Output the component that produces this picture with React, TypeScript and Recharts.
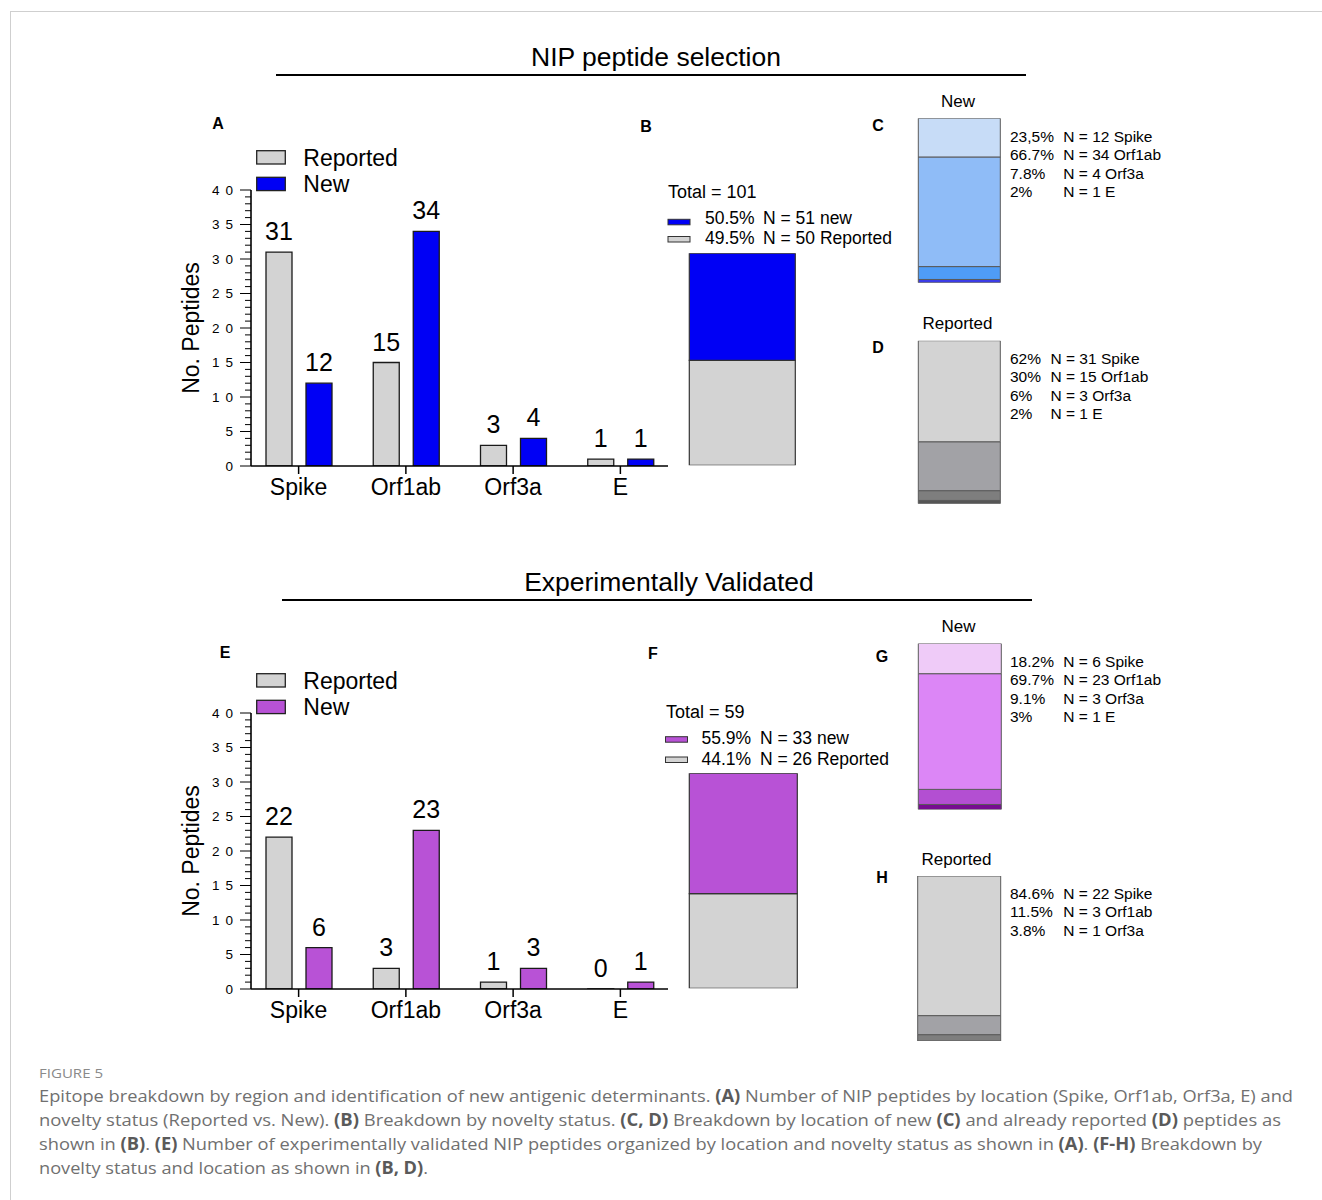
import React from 'react';
import { BarChart, Bar, XAxis, YAxis, LabelList, Legend } from 'recharts';

const FONT = '"Liberation Sans", Arial, Helvetica, sans-serif';
const CAPTION_FONT = '"Open Sans", "Noto Sans", sans-serif';

// ---------- data ----------
const regions = ['Spike', 'Orf1ab', 'Orf3a', 'E'];
const seriesNames = ['Reported', 'New'];

const nipReported = [31, 15, 3, 1];
const nipNew = [12, 34, 4, 1];
const valReported = [22, 3, 1, 0];
const valNew = [6, 23, 3, 1];

const yTicks = [0, 1, 2, 3, 4, 5, 6, 7, 8, 9, 10, 11, 12, 13, 14, 15, 16, 17, 18, 19, 20,
  21, 22, 23, 24, 25, 26, 27, 28, 29, 30, 31, 32, 33, 34, 35, 36, 37, 38, 39, 40];

const noveltyKeys = ['New', 'Reported'];
const noveltyWords = ['new', 'Reported'];
const nipTotal = 101;
const nipNoveltyCounts = [51, 50];
const nipNoveltyPcts = ['50.5%', '49.5%'];
const valTotal = 59;
const valNoveltyCounts = [33, 26];
const valNoveltyPcts = ['55.9%', '44.1%'];

const nipNewByRegion = [12, 34, 4, 1];
const nipNewPcts = ['23,5%', '66.7%', '7.8%', '2%'];
const nipRepByRegion = [31, 15, 3, 1];
const nipRepPcts = ['62%', '30%', '6%', '2%'];
const valNewByRegion = [6, 23, 3, 1];
const valNewPcts = ['18.2%', '69.7%', '9.1%', '3%'];
const valRepRegions = ['Spike', 'Orf1ab', 'Orf3a'];
const valRepByRegion = [22, 3, 1];
const valRepPcts = ['84.6%', '11.5%', '3.8%'];

// ---------- colours ----------
const GRAY = '#d3d3d3';
const BLUE = '#0000f5';
const PURPLE = '#b852d6';
const nipNewColors = ['#c7dcf7', '#8fbcf7', '#4f9cf6', '#3c3ce6'];
const repColors = ['#d3d3d3', '#a2a2a6', '#7e7e7e', '#555555'];
const valNewColors = ['#efcbf8', '#dc86f6', '#b34fd2', '#760c90'];

const captionLines: [string, boolean][][] = [
  [['Epitope breakdown by region and identification of new antigenic determinants. ', false], ['(A)', true], [' Number of NIP peptides by location (Spike, Orf1ab, Orf3a, E) and', false]],
  [['novelty status (Reported vs. New). ', false], ['(B)', true], [' Breakdown by novelty status. ', false], ['(C, D)', true], [' Breakdown by location of new ', false], ['(C)', true], [' and already reported ', false], ['(D)', true], [' peptides as', false]],
  [['shown in ', false], ['(B)', true], ['. ', false], ['(E)', true], [' Number of experimentally validated NIP peptides organized by location and novelty status as shown in ', false], ['(A)', true], ['. ', false], ['(F-H)', true], [' Breakdown by', false]],
  [['novelty status and location as shown in ', false], ['(B, D)', true], ['.', false]],
];
const captionWidths = [1254, 1242, 1223, 389];

// ---------- helpers ----------
const YTick = (props: any) => {
  const { x, y, payload } = props;
  const v = Number(payload.value);
  const major = v % 5 === 0;
  return (
    <g>
      <line x1={x - (major ? 11 : 6)} x2={x} y1={y} y2={y} stroke="#000" strokeWidth={1} />
      {major && (
        <text x={x - 12} y={y} dy="0.36em" textAnchor="end" fontSize={13.5} letterSpacing={6} fill="#000" fontFamily={FONT}>
          {String(v)}
        </text>
      )}
    </g>
  );
};

const renderYLabel = (props: any) => {
  const vb = props.viewBox || {};
  const x = vb.x + 49;
  const cy = vb.y + vb.height / 2;
  return (
    <text x={x} y={cy} transform={`rotate(-90, ${x}, ${cy})`} textAnchor="middle" fontSize={23} fill="#000" fontFamily={FONT}>
      No. Peptides
    </text>
  );
};

const renderValueLabel = (props: any) => {
  const { x, y, width, height, value } = props;
  if (value === undefined || value === null) return null;
  const cx = Number(x) + Number(width) / 2;
  // top edge of the bar (height may be tiny for zero values)
  const topY = Math.min(Number(y), Number(y) + Number(height || 0));
  return (
    <text x={cx} y={topY - 12} textAnchor="middle" fontSize={25} fill="#000" fontFamily={FONT}>
      {String(value)}
    </text>
  );
};

// zero-valued bars still need a rectangle so that their value label is drawn
const zeroBarSize = (value: any) => (Number(value) === 0 ? 0.1 : 0);

type GroupedProps = {
  top: number;
  plotTop: number;
  plotBottom: number;
  reported: number[];
  added: number[];
  newColor: string;
  legendTop: number;
};

function GroupedPanel({ top, plotTop, plotBottom, reported, added, newColor, legendTop }: GroupedProps) {
  const LEFT = 150;
  const W = 540;
  const H = 430;
  const XH = 40;
  const data = regions.map((r, i) => ({ region: r, Reported: reported[i], New: added[i] }));
  const mt = plotTop - top;
  const mb = H - (plotBottom - top) - XH;
  const swatchColors = [GRAY, newColor];
  const legendContent = () => (
    <svg width={200} height={56} style={{ display: 'block', overflow: 'visible' }}>
      {seriesNames.map((n, i) => (
        <g key={n}>
          <rect x={6.7} y={5.7 + i * 26.6} width={28.6} height={13.3} fill={swatchColors[i]} stroke="#222" strokeWidth={1.3} />
          <text x={53.3} y={21 + i * 25.8} fontSize={23} fill="#000" fontFamily={FONT}>{n}</text>
        </g>
      ))}
    </svg>
  );
  return (
    <div style={{ position: 'absolute', left: LEFT, top, width: W, height: H }}>
      <BarChart width={W} height={H} data={data} margin={{ top: mt, right: 22, bottom: mb, left: 0 }} barSize={26} barGap={14}>
        <XAxis
          dataKey="region"
          height={XH}
          padding={{ left: -6, right: -6 }}
          interval={0}
          tickSize={8}
          tickMargin={5}
          axisLine={{ stroke: '#000', strokeWidth: 1.6 }}
          tickLine={{ stroke: '#000', strokeWidth: 1.5 }}
          tick={{ fontSize: 23, fill: '#000', fontFamily: FONT }}
        />
        <YAxis
          type="number"
          domain={[0, 40]}
          allowDataOverflow
          ticks={yTicks}
          interval={0}
          width={101}
          tickSize={0}
          tickMargin={0}
          tickLine={false}
          tick={<YTick />}
          axisLine={{ stroke: '#000', strokeWidth: 1.6 }}
          label={{ value: 'No. Peptides', content: renderYLabel }}
        />
        <Legend
          verticalAlign="middle"
          layout="horizontal"
          align="center"
          wrapperStyle={{ left: 100, top: legendTop - top, width: 200, height: 56 }}
          content={legendContent}
        />
        <Bar dataKey="Reported" fill={GRAY} stroke="#1a1a1a" strokeWidth={1.3} minPointSize={zeroBarSize} isAnimationActive={false}>
          <LabelList dataKey="Reported" content={renderValueLabel} />
        </Bar>
        <Bar dataKey="New" fill={newColor} stroke="#1a1a1a" strokeWidth={1.3} minPointSize={zeroBarSize} isAnimationActive={false}>
          <LabelList dataKey="New" content={renderValueLabel} />
        </Bar>
      </BarChart>
    </div>
  );
}

type StackProps = {
  left: number;
  top: number;
  width: number;
  height: number;
  margin: { top: number; right: number; bottom: number; left: number };
  keys: string[];
  values: number[];
  colors: string[];
  stroke: string;
  strokeWidth: number;
  legendBox: { left: number; top: number; width: number; height: number };
  legend: React.ReactNode;
};

function StackPanel(p: StackProps) {
  const row: Record<string, any> = { name: 'total' };
  p.keys.forEach((k, i) => {
    row[k] = p.values[i];
  });
  const total = p.values.reduce((a, b) => a + b, 0);
  const order = p.keys.map((_, i) => i).reverse();
  return (
    <div style={{ position: 'absolute', left: p.left, top: p.top, width: p.width, height: p.height }}>
      <BarChart width={p.width} height={p.height} data={[row]} margin={p.margin} barCategoryGap={0} barGap={0}>
        <XAxis dataKey="name" hide />
        <YAxis type="number" hide domain={[0, total]} allowDataOverflow />
        <Legend
          verticalAlign="middle"
          layout="horizontal"
          align="center"
          wrapperStyle={{ left: p.legendBox.left, top: p.legendBox.top, width: p.legendBox.width, height: p.legendBox.height }}
          content={() => p.legend}
        />
        {order.map((i) => (
          <Bar
            key={p.keys[i]}
            dataKey={p.keys[i]}
            stackId="s"
            fill={p.colors[i]}
            stroke={p.stroke}
            strokeWidth={p.strokeWidth}
            isAnimationActive={false}
          />
        ))}
      </BarChart>
    </div>
  );
}

function NoveltyLegend({ total, pcts, counts, colors, pctX, nX, totalX, swatchX, rowsY, baselines, totalBase }: any) {
  return (
    <svg width={240} height={75} style={{ display: 'block', overflow: 'visible' }}>
      <text x={totalX} y={totalBase} fontSize={18} fill="#000" fontFamily={FONT}>{`Total = ${total}`}</text>
      {noveltyKeys.map((k, i) => (
        <g key={k}>
          <rect x={swatchX} y={rowsY[i]} width={22} height={5.5} fill={colors[i]} stroke="#333" strokeWidth={1} />
          <text x={pctX} y={baselines[i]} fontSize={17.5} fill="#000" fontFamily={FONT}>{pcts[i]}</text>
          <text x={nX} y={baselines[i]} fontSize={17.5} fill="#000" fontFamily={FONT}>{`N = ${counts[i]} ${noveltyWords[i]}`}</text>
        </g>
      ))}
    </svg>
  );
}

function RegionLegend({ pcts, counts, names, col2 }: any) {
  return (
    <svg width={190} height={80} style={{ display: 'block', overflow: 'visible' }}>
      {pcts.map((p: string, i: number) => (
        <g key={i}>
          <text x={10} y={18.5 + i * 18.5} fontSize={15.5} fill="#000" fontFamily={FONT}>{p}</text>
          <text x={col2} y={18.5 + i * 18.5} fontSize={15.5} fill="#000" fontFamily={FONT}>{`N = ${counts[i]} ${names[i]}`}</text>
        </g>
      ))}
    </svg>
  );
}

export default function App() {
  const letters: [string, number, number][] = [
    ['A', 218, 129], ['B', 646, 132], ['C', 878, 131], ['D', 878, 353],
    ['E', 225, 658], ['F', 653, 659], ['G', 882, 662], ['H', 882, 883],
  ];
  return (
    <div style={{ position: 'absolute', left: 0, top: 0, width: 1322, height: 1200, background: '#fff', fontFamily: FONT, overflow: 'hidden' }}>
      <GroupedPanel top={100} plotTop={190} plotBottom={466} reported={nipReported} added={nipNew} newColor={BLUE} legendTop={145} />
      <GroupedPanel top={620} plotTop={713} plotBottom={989} reported={valReported} added={valNew} newColor={PURPLE} legendTop={668} />

      {/* B */}
      <StackPanel
        left={660} top={170} width={160} height={320}
        margin={{ top: 83.3, right: 24.3, bottom: 24.7, left: 29.3 }}
        keys={noveltyKeys} values={nipNoveltyCounts} colors={[BLUE, GRAY]} stroke="#333" strokeWidth={1.2}
        legendBox={{ left: 0, top: 10, width: 240, height: 75 }}
        legend={<NoveltyLegend total={nipTotal} pcts={nipNoveltyPcts} counts={nipNoveltyCounts} colors={[BLUE, GRAY]}
          totalX={8} totalBase={18} swatchX={8} rowsY={[39.3, 56.5]} pctX={45} nX={103} baselines={[44, 63.5]} />}
      />
      {/* F */}
      <StackPanel
        left={660} top={690} width={160} height={330}
        margin={{ top: 83.3, right: 22.7, bottom: 31.7, left: 29.3 }}
        keys={noveltyKeys} values={valNoveltyCounts} colors={[PURPLE, GRAY]} stroke="#333" strokeWidth={1.2}
        legendBox={{ left: 0, top: 10, width: 240, height: 75 }}
        legend={<NoveltyLegend total={valTotal} pcts={valNoveltyPcts} counts={valNoveltyCounts} colors={[PURPLE, GRAY]}
          totalX={6} totalBase={18.3} swatchX={5.5} rowsY={[36.7, 57]} pctX={41.5} nX={100} baselines={[44, 65]} />}
      />
      {/* C */}
      <StackPanel
        left={900} top={85} width={290} height={210}
        margin={{ top: 33.3, right: 189.5, bottom: 12.3, left: 18.3 }}
        keys={regions} values={nipNewByRegion} colors={nipNewColors} stroke="#5a5a5a" strokeWidth={1}
        legendBox={{ left: 100, top: 37.5, width: 190, height: 80 }}
        legend={<RegionLegend pcts={nipNewPcts} counts={nipNewByRegion} names={regions} col2={63.3} />}
      />
      {/* D */}
      <StackPanel
        left={900} top={310} width={290} height={210}
        margin={{ top: 30.7, right: 189.5, bottom: 16.3, left: 18.3 }}
        keys={regions} values={nipRepByRegion} colors={repColors} stroke="#5a5a5a" strokeWidth={1}
        legendBox={{ left: 100, top: 35, width: 190, height: 80 }}
        legend={<RegionLegend pcts={nipRepPcts} counts={nipRepByRegion} names={regions} col2={50.5} />}
      />
      {/* G */}
      <StackPanel
        left={900} top={610} width={290} height={220}
        margin={{ top: 33.5, right: 188.5, bottom: 20.5, left: 18.3 }}
        keys={regions} values={valNewByRegion} colors={valNewColors} stroke="#5a5a5a" strokeWidth={1}
        legendBox={{ left: 100, top: 38, width: 190, height: 80 }}
        legend={<RegionLegend pcts={valNewPcts} counts={valNewByRegion} names={regions} col2={63.3} />}
      />
      {/* H */}
      <StackPanel
        left={900} top={845} width={290} height={210}
        margin={{ top: 31, right: 189.5, bottom: 14, left: 17.7 }}
        keys={valRepRegions} values={valRepByRegion} colors={repColors.slice(0, 3)} stroke="#5a5a5a" strokeWidth={1}
        legendBox={{ left: 100, top: 35, width: 190, height: 80 }}
        legend={<RegionLegend pcts={valRepPcts} counts={valRepByRegion} names={valRepRegions} col2={63.3} />}
      />

      <svg width={1322} height={1200} style={{ position: 'absolute', left: 0, top: 0, pointerEvents: 'none' }}>
        <line x1={10} y1={11.5} x2={1322} y2={11.5} stroke="#cfcfcf" strokeWidth={1} />
        <line x1={10.5} y1={11} x2={10.5} y2={1200} stroke="#cfcfcf" strokeWidth={1} />

        <text x={656} y={66} textAnchor="middle" fontSize={26.5} fill="#000" fontFamily={FONT}>NIP peptide selection</text>
        <line x1={276} y1={75} x2={1026} y2={75} stroke="#000" strokeWidth={2} />
        <text x={669} y={591} textAnchor="middle" fontSize={26.5} fill="#000" fontFamily={FONT}>Experimentally Validated</text>
        <line x1={282} y1={600} x2={1032} y2={600} stroke="#000" strokeWidth={2} />

        {letters.map(([l, x, y]) => (
          <text key={l} x={x} y={y} textAnchor="middle" fontSize={16} fontWeight={700} fill="#000" fontFamily={FONT}>{l}</text>
        ))}

        <text x={958} y={106.5} textAnchor="middle" fontSize={17} fill="#000" fontFamily={FONT}>New</text>
        <text x={957.5} y={328.5} textAnchor="middle" fontSize={17} fill="#000" fontFamily={FONT}>Reported</text>
        <text x={958.5} y={632} textAnchor="middle" fontSize={17} fill="#000" fontFamily={FONT}>New</text>
        <text x={956.5} y={865} textAnchor="middle" fontSize={17} fill="#000" fontFamily={FONT}>Reported</text>

        <text x={39} y={1078} fontSize={13} fill="#8a8a8a" fontFamily={CAPTION_FONT} textLength={64} lengthAdjust="spacingAndGlyphs">FIGURE 5</text>
        {captionLines.map((line, li) => (
          <text key={li} x={39} y={1101.5 + li * 24} fontSize={17} fill="#707070" fontFamily={CAPTION_FONT}
            textLength={captionWidths[li]} lengthAdjust="spacingAndGlyphs" style={{ whiteSpace: 'pre' }}>
            {line.map(([t, b], si) => (
              <tspan key={si} fontWeight={b ? 700 : 400} fill={b ? '#5a5a5a' : '#707070'}>{t}</tspan>
            ))}
          </text>
        ))}
      </svg>
    </div>
  );
}
